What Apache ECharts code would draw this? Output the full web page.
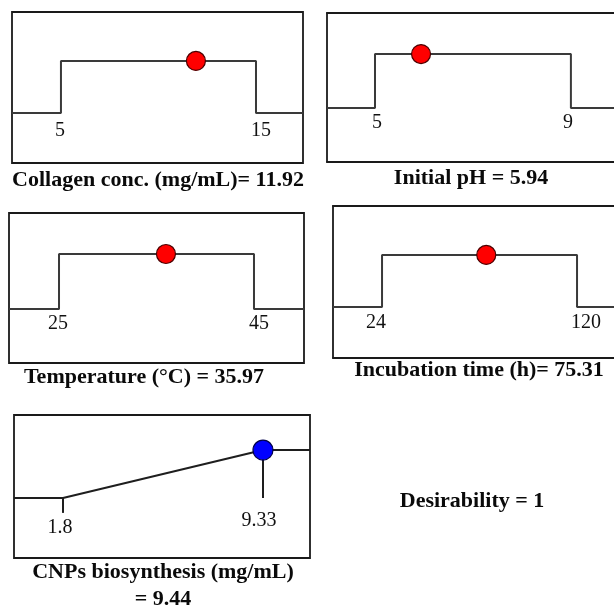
<!DOCTYPE html>
<html>
<head>
<meta charset="utf-8">
<script src="https://cdn.jsdelivr.net/npm/echarts@6/dist/echarts.min.js"></script>
<style>
  html, body { margin: 0; padding: 0; background: #fff; }
  #chart { width: 614px; height: 606px; }
</style>
</head>
<body>
<div id="chart"></div>
<script>
// factor ranges (low / high limits) and optimum values
var collagenTicks = [5, 15];
var collagenValue = 11.92;
var phTicks = [5, 9];
var phValue = 5.94;
var tempTicks = [25, 45];
var tempValue = 35.97;
var timeTicks = [24, 120];
var timeValue = 75.31;
var cnpTicks = [1.8, 9.33];
var cnpValue = 9.44;
var desirability = 1;

var captions = [
  'Collagen conc. (mg/mL)= ' + collagenValue,
  'Initial pH = ' + phValue,
  'Temperature (°C) = ' + tempValue,
  'Incubation time (h)= ' + timeValue,
  'CNPs biosynthesis (mg/mL)\n= ' + cnpValue
];

// layout of each small panel (pixels) and axis extents
// open: box runs off the right edge of the page, so no right border
var panels = [
  { box: [12, 12, 291, 151], x: [2.49, 17.41], y: [-0.96, 1.94], ticks: collagenTicks, value: collagenValue,
    lab: [[-1, 18], [5, 18]], cap: [158, 180] },
  { box: [327, 13, 287, 149], x: [4.02, 9.88], y: [-1.0, 1.76], ticks: phTicks, value: phValue,
    lab: [[2, 15], [-3, 15]], cap: [471, 178], open: true },
  { box: [9, 213, 295, 150], x: [19.87, 50.13], y: [-0.98, 1.745], ticks: tempTicks, value: tempValue,
    lab: [[-1, 15], [5, 15]], cap: [144, 377] },
  { box: [333, 206, 281, 152], x: [-0.14, 138.2], y: [-0.98, 1.94], ticks: timeTicks, value: timeValue,
    lab: [[-6, 16], [9, 16]], cap: [479, 370], open: true }
];
var cnpPanel = { box: [14, 415, 296, 143], x: [-0.045, 11.10], y: [-1.25, 1.73] };

var grids = [], xAxes = [], yAxes = [], series = [];
var lineColor = '#3a3a3a';
var frame = { show: true, onZero: false, lineStyle: { color: '#1a1a1a', width: 1.8 } };
var serif = '"Liberation Serif", "Times New Roman", serif';

function addGrid(p) {
  var i = grids.length;
  grids.push({
    left: p.box[0], top: p.box[1], width: p.box[2], height: p.box[3],
    show: !p.open, borderColor: '#1a1a1a', borderWidth: 1.8, backgroundColor: 'transparent'
  });
  var hidden = { show: p.open ? true : false, axisLine: frame, axisTick: { show: false },
    axisLabel: { show: false }, splitLine: { show: false } };
  xAxes.push(Object.assign({ gridIndex: i, type: 'value', min: p.x[0], max: p.x[1], position: 'bottom' }, hidden));
  yAxes.push(Object.assign({ gridIndex: i, type: 'value', min: p.y[0], max: p.y[1], position: 'left' }, hidden));
  if (p.open) {
    // top edge of the frame
    xAxes.push(Object.assign({ gridIndex: i, type: 'value', min: p.x[0], max: p.x[1], position: 'top' }, hidden));
  }
  return i;
}

function tickLabels(i, ticks, offsets) {
  return {
    type: 'scatter', xAxisIndex: xIndex[i], yAxisIndex: i, symbolSize: 1, silent: true,
    itemStyle: { color: 'transparent', opacity: 1 },
    data: ticks.map(function (t, k) {
      return {
        value: [t, 0],
        label: {
          show: true, position: 'inside', formatter: String(t),
          offset: offsets[k], color: '#111', fontSize: 20, fontFamily: serif
        }
      };
    })
  };
}

var xIndex = [];
panels.forEach(function (p) {
  xIndex.push(xAxes.length);
  var i = addGrid(p);
  var xi = xIndex[i];
  var t = p.ticks;
  series.push({
    type: 'line', xAxisIndex: xi, yAxisIndex: i, symbol: 'none', silent: true,
    lineStyle: { color: lineColor, width: 2 },
    data: [[p.x[0], 0], [t[0], 0], [t[0], 1], [t[1], 1], [t[1], 0], [p.x[1], 0]]
  });
  series.push({
    type: 'scatter', xAxisIndex: xi, yAxisIndex: i, symbolSize: 19, silent: true,
    itemStyle: { color: '#ff0000', borderColor: '#4a0000', borderWidth: 1.2, opacity: 1 },
    data: [[p.value, 1]], z: 5
  });
  series.push(tickLabels(i, t, p.lab));
});

// response panel
xIndex.push(xAxes.length);
var c = addGrid(cnpPanel);
var cx = xIndex[c];
series.push({
  type: 'line', xAxisIndex: cx, yAxisIndex: c, symbol: 'none', silent: true,
  lineStyle: { color: '#1e1e1e', width: 2 },
  data: [[cnpPanel.x[0], 0], [cnpTicks[0], 0], [cnpTicks[1], 1], [cnpPanel.x[1], 1]]
});
series.push({
  type: 'line', xAxisIndex: cx, yAxisIndex: c, symbol: 'none', silent: true,
  lineStyle: { color: '#1e1e1e', width: 2 },
  data: [[cnpTicks[0], 0], [cnpTicks[0], -0.31]]
});
series.push({
  type: 'line', xAxisIndex: cx, yAxisIndex: c, symbol: 'none', silent: true,
  lineStyle: { color: '#1e1e1e', width: 2 },
  data: [[cnpTicks[1], 1], [cnpTicks[1], 0]]
});
series.push({
  type: 'scatter', xAxisIndex: cx, yAxisIndex: c, symbolSize: 20, silent: true,
  itemStyle: { color: '#0000ff', borderColor: '#00004a', borderWidth: 1.2, opacity: 1 },
  data: [[cnpTicks[1], desirability]], z: 5
});
series.push(tickLabels(c, cnpTicks, [[-3, 30], [-4, 23]]));

var capStyle = { fontFamily: serif, fontWeight: 'bold', fontSize: 22, fill: '#0a0a0a' };
var graphics = panels.map(function (p, k) {
  return {
    type: 'text', x: p.cap[0], y: p.cap[1],
    style: Object.assign({ text: captions[k], align: 'center', verticalAlign: 'middle' }, capStyle)
  };
});
graphics.push({
  type: 'text', x: 163, y: 586,
  style: Object.assign({ text: captions[4], align: 'center', verticalAlign: 'middle', lineHeight: 27 }, capStyle)
});
graphics.push({
  type: 'text', x: 472, y: 501,
  style: Object.assign({ text: 'Desirability = ' + desirability, align: 'center', verticalAlign: 'middle' }, capStyle)
});

var chart = echarts.init(document.getElementById('chart'));
chart.setOption({
  animation: false,
  backgroundColor: '#fff',
  grid: grids,
  xAxis: xAxes,
  yAxis: yAxes,
  series: series,
  graphic: graphics
});
</script>
</body>
</html>
